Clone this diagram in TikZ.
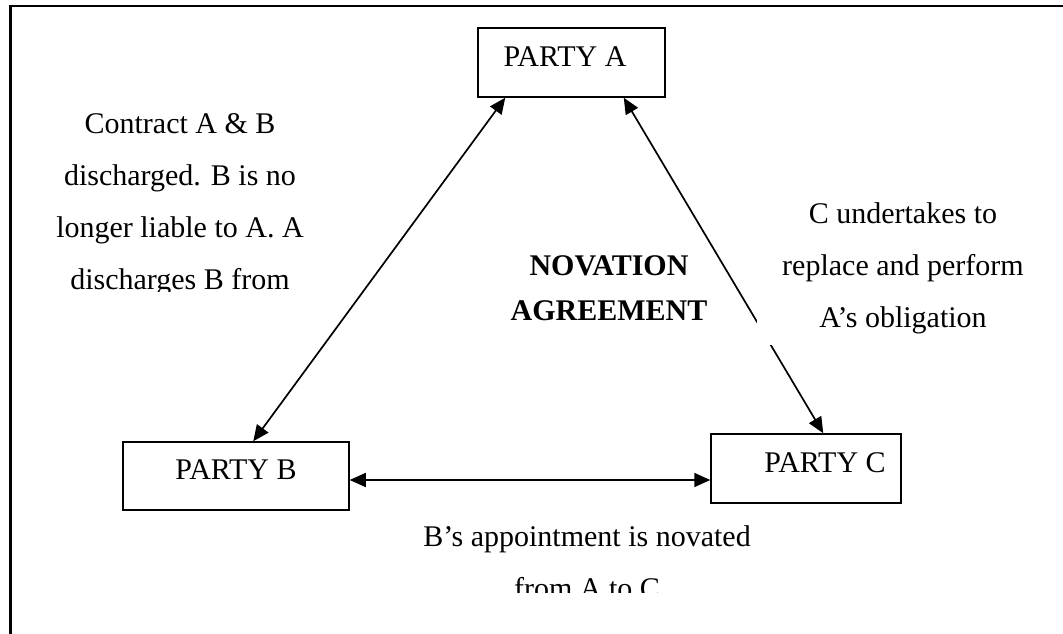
\documentclass[tikz,border=0pt]{standalone}
\usepackage{fontspec}
\setmainfont{Liberation Serif}
\usetikzlibrary{arrows.meta}
\begin{document}
\begin{tikzpicture}[x=1pt,y=-1pt,
  partybox/.style={draw, line width=1.5pt, fill=white, inner sep=0pt},
  lbl/.style={font=\fontsize{30}{52}\selectfont, inner sep=0pt, align=center},
  conn/.style={line width=1.7pt, {Triangle[length=16pt,width=14pt]}-{Triangle[length=16pt,width=14pt]}}]
\useasboundingbox (0,0) rectangle (1063,634);
% outer frame (only left and top edges visible)
\draw[line width=2.4pt] (10.5,634) -- (10.5,6) -- (1063,6);
% party boxes
\node[partybox, minimum width=187pt, minimum height=69pt] (A) at (571.5,62.5) {};
\node[partybox, minimum width=226pt, minimum height=68pt] (B) at (236,476) {};
\node[partybox, minimum width=190pt, minimum height=69pt] (C) at (806,468.5) {};
\node[lbl] (Atext) at (565,56.5) {PARTY A};
\node[lbl] (Btext) at (236,470) {PARTY B};
\node[lbl] (Ctext) at (825,463) {PARTY C};
% connectors
\draw[conn] ([xshift=28pt]A.south west) -- ([xshift=131pt]B.north west);
\draw[conn] ([xshift=-42pt]A.south east) -- ([xshift=113pt]C.north west);
\draw[conn] ([yshift=-4pt]B.east) -- ([yshift=-4pt]B.east -| C.west);
% right text box (white fill hides part of the A--C line)
\fill[white] (757,150) rectangle (1049,345);
\node[lbl, anchor=base] (rtext) at (903,327) {C undertakes to\\replace and perform\\A's obligation};
% left text, clipped at the bottom of its box
\begin{scope}
\clip (20,60) rectangle (345,291);
\node[lbl, anchor=base] (ltext) at (180,289) {Contract A \& B\\discharged. B is no\\longer liable to A. A\\discharges B from};
\end{scope}
% centre title
\node[lbl, font=\fontsize{30}{45}\selectfont\bfseries, anchor=base] (title) at (609,320) {NOVATION\\AGREEMENT};
% bottom text, clipped
\begin{scope}
\clip (380,500) rectangle (800,592);
\node[lbl, anchor=base] (btext) at (587,598) {B's appointment is novated\\from A to C};
\end{scope}
\end{tikzpicture}
\end{document}
